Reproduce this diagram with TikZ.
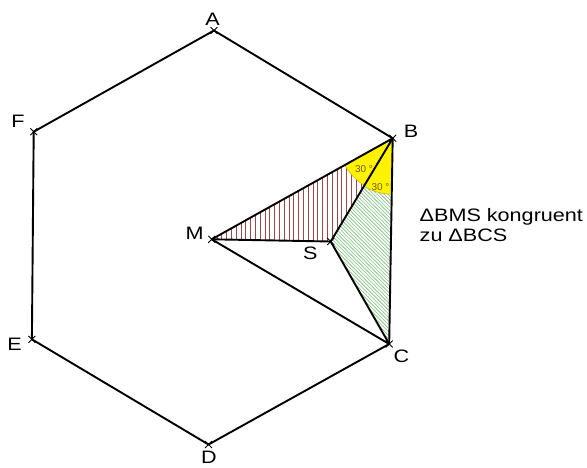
\documentclass[tikz,border=0pt]{standalone}
\usepackage{fontspec}
\setmainfont{Liberation Sans}
\usetikzlibrary{shapes.misc}
\definecolor{hatchred}{RGB}{165,70,70}
\definecolor{hatchgreen}{RGB}{120,195,120}
\definecolor{angtext}{RGB}{115,90,0}
\definecolor{angline}{RGB}{190,170,40}
\begin{document}
\begin{tikzpicture}[x=1pt,y=-1pt,
  edge/.style={line width=1.9pt,black,line join=round},
  xmk/.style={cross out,draw,black,minimum size=6pt,inner sep=0pt,line width=0.9pt},
  lbl/.style={font=\fontsize{18}{20}\selectfont,inner sep=0pt,anchor=base},
  ang/.style={font=\fontsize{10}{11}\selectfont,text=angtext,inner sep=0pt},
]
\useasboundingbox (0,0) rectangle (587,467);
\coordinate (A) at (214,30.5);
\coordinate (B) at (392.7,138.3);
\coordinate (C) at (389.2,344);
\coordinate (D) at (208.5,444.5);
\coordinate (E) at (31.9,339.3);
\coordinate (F) at (33.7,131.7);
\coordinate (M) at (211.7,239.3);
\coordinate (S) at (330.7,241.5);

% hatching of triangle BMS
\begin{scope}
  \clip (B) -- (M) -- (S) -- cycle;
  \foreach \x in {212,216.8,...,396} \draw[hatchred,line width=0.55pt] (\x,130) -- (\x,250);
\end{scope}
% hatching of triangle BCS
\begin{scope}
  \clip (B) -- (C) -- (S) -- cycle;
  \foreach \x in {50,53.6,...,400} \draw[hatchgreen,line width=0.6pt] (\x,130) -- ++(230,230);
\end{scope}
% yellow angle sectors
\begin{scope}
  \clip (B) -- (M) -- (S) -- cycle;
  \fill[yellow] (B) circle[radius=55pt];
  \draw[angline,line width=0.5pt] (B) circle[radius=55pt];
\end{scope}
\begin{scope}
  \clip (B) -- (C) -- (S) -- cycle;
  \fill[yellow] (B) circle[radius=56pt];
  \draw[angline,line width=0.5pt] (B) circle[radius=56pt];
\end{scope}
\node[ang] (a1) at (364,169.5) {30 °};
\node[ang] (a2) at (380.5,187) {30 °};

% hexagon and inner lines
\draw[edge] (A) -- (B) -- (C) -- (D) -- (E) -- (F) -- cycle;
\draw[edge] (M) -- (B);
\draw[edge] (M) -- (S);
\draw[edge] (S) -- (B);
\draw[edge] (S) -- (C);
\draw[edge] (M) -- (C);

% vertex marks
\foreach \p in {A,B,C,D,E,F,M,S} \node[xmk] (mk\p) at (\p) {};

% labels
\node[lbl] (lA) at (212.5,25.7) {\scalebox{1.2}[1]{A}};
\node[lbl] (lB) at (411,137.3) {\scalebox{1.2}[1]{B}};
\node[lbl] (lC) at (401.5,362) {\scalebox{1.2}[1]{C}};
\node[lbl] (lD) at (209,463.5) {\scalebox{1.2}[1]{D}};
\node[lbl] (lE) at (14.5,350.5) {\scalebox{1.2}[1]{E}};
\node[lbl] (lF) at (18,127) {\scalebox{1.2}[1]{F}};
\node[lbl] (lM) at (194.7,239.3) {\scalebox{1.2}[1]{M}};
\node[lbl] (lS) at (310.3,259.3) {\scalebox{1.2}[1]{S}};
\node[lbl,anchor=base west] (t1) at (419.5,221.7) {\scalebox{1.2}[1]{ΔBMS kongruent}};
\node[lbl,anchor=base west] (t2) at (419.5,241) {\scalebox{1.2}[1]{zu ΔBCS}};
\end{tikzpicture}
\end{document}
